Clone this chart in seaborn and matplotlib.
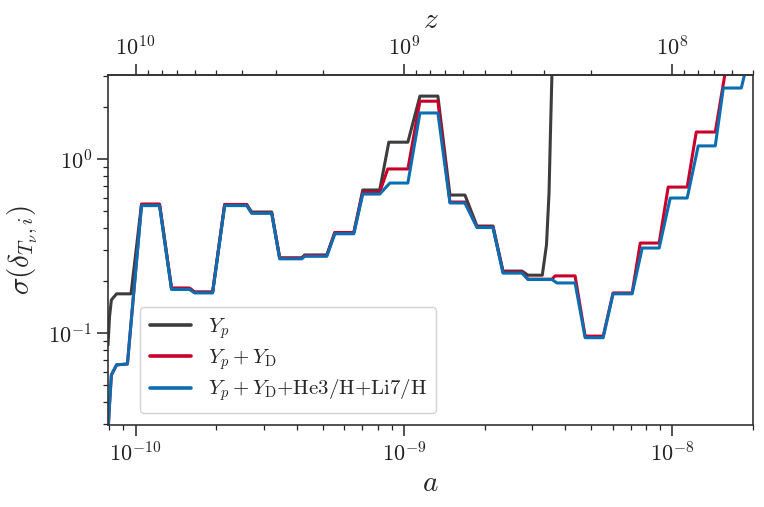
import numpy as np
import pandas as pd
import matplotlib
matplotlib.use("Agg")
import matplotlib.pyplot as plt
import seaborn as sns
from matplotlib.ticker import NullFormatter, LogLocator

# ---------------- data ----------------
a_yp = [7.90e-11, 8.0e-11, 8.13e-11, 8.50e-11, 9.62e-11, 1.053e-10, 1.229e-10,
        1.362e-10, 1.590e-10, 1.660e-10, 1.938e-10, 2.149e-10, 2.595e-10,
        2.709e-10, 3.217e-10, 3.446e-10, 4.163e-10, 4.272e-10, 5.162e-10,
        5.53e-10, 6.51e-10, 7.03e-10, 8.13e-10, 8.79e-10, 1.035e-9, 1.148e-9,
        1.339e-9, 1.485e-9, 1.689e-9, 1.873e-9, 2.148e-9, 2.341e-9, 2.756e-9,
        2.902e-9, 3.28e-9, 3.40e-9, 3.475e-9, 3.52e-9, 3.566e-9]
sig_yp = [0.0853, 0.1236, 0.155, 0.168, 0.168, 0.55, 0.55,
          0.181, 0.181, 0.172, 0.172, 0.548, 0.548,
          0.496, 0.496, 0.270, 0.270, 0.281, 0.281,
          0.378, 0.378, 0.664, 0.664, 1.25, 1.25, 2.30,
          2.30, 0.621, 0.621, 0.412, 0.412, 0.227, 0.227,
          0.215, 0.215, 0.321, 0.638, 1.47, 3.25]

a_yd = [7.90e-11, 8.0e-11, 8.13e-11, 8.50e-11, 9.33e-11, 1.053e-10, 1.229e-10,
        1.362e-10, 1.590e-10, 1.660e-10, 1.938e-10, 2.149e-10, 2.595e-10,
        2.709e-10, 3.217e-10, 3.446e-10, 4.163e-10, 4.272e-10, 5.162e-10,
        5.53e-10, 6.51e-10, 7.03e-10, 8.13e-10, 8.71e-10, 1.035e-9, 1.148e-9,
        1.339e-9, 1.485e-9, 1.689e-9, 1.873e-9, 2.148e-9, 2.341e-9, 2.756e-9,
        2.902e-9, 3.566e-9, 3.66e-9, 4.346e-9, 4.737e-9, 5.53e-9, 6.02e-9,
        7.09e-9, 7.60e-9, 8.94e-9, 9.66e-9, 1.137e-8, 1.229e-8, 1.447e-8,
        1.59e-8]
sig_yd = [0.027, 0.0386, 0.0574, 0.0656, 0.0664, 0.55, 0.55,
          0.181, 0.181, 0.172, 0.172, 0.548, 0.548,
          0.49, 0.49, 0.270, 0.270, 0.279, 0.279,
          0.378, 0.378, 0.645, 0.645, 0.877, 0.877, 2.15,
          2.15, 0.566, 0.566, 0.407, 0.407, 0.224, 0.224,
          0.204, 0.204, 0.213, 0.213, 0.096, 0.096, 0.170,
          0.170, 0.329, 0.329, 0.690, 0.690, 1.43, 1.43,
          3.42]

a_all = [7.90e-11, 8.0e-11, 8.13e-11, 8.50e-11, 9.33e-11, 1.053e-10, 1.229e-10,
         1.362e-10, 1.590e-10, 1.660e-10, 1.938e-10, 2.149e-10, 2.595e-10,
         2.709e-10, 3.217e-10, 3.446e-10, 4.163e-10, 4.272e-10, 5.162e-10,
         5.53e-10, 6.51e-10, 7.03e-10, 8.13e-10, 8.87e-10, 1.035e-9, 1.148e-9,
         1.339e-9, 1.485e-9, 1.689e-9, 1.873e-9, 2.148e-9, 2.341e-9, 2.756e-9,
         2.902e-9, 3.566e-9, 3.72e-9, 4.346e-9, 4.737e-9, 5.53e-9, 6.02e-9,
         7.09e-9, 7.73e-9, 8.94e-9, 9.83e-9, 1.137e-8, 1.250e-8, 1.447e-8,
         1.550e-8, 1.809e-8, 1.905e-8]
sig_all = [0.027, 0.0386, 0.0574, 0.0656, 0.0664, 0.54, 0.54,
           0.178, 0.178, 0.170, 0.170, 0.540, 0.540,
           0.488, 0.488, 0.267, 0.267, 0.276, 0.276,
           0.372, 0.372, 0.629, 0.629, 0.728, 0.728, 1.84,
           1.84, 0.559, 0.559, 0.404, 0.404, 0.221, 0.221,
           0.203, 0.203, 0.194, 0.194, 0.094, 0.094, 0.168,
           0.168, 0.308, 0.308, 0.597, 0.597, 1.19, 1.19,
           2.56, 2.56, 3.56]

labels = [r"$Y_p$", r"$Y_p + Y_{\rm D}$", r"$Y_p + Y_{\rm D}$+He3/H+Li7/H"]
colors = ["#3d3d3d", "#c8002a", "#0b6eb1"]

# ---------------- style ----------------
sns.set_style("ticks")
plt.rcParams.update({
    "font.family": "serif",
    "font.serif": ["cmr10", "DejaVu Serif"],
    "mathtext.fontset": "cm",
    "axes.formatter.use_mathtext": True,
    "axes.unicode_minus": False,
    "axes.edgecolor": "#333333",
    "axes.linewidth": 1.2,
    "xtick.color": "#222222",
    "ytick.color": "#222222",
})

df = pd.concat([
    pd.DataFrame({"a": a_yp, "sigma": sig_yp, "series": labels[0]}),
    pd.DataFrame({"a": a_yd, "sigma": sig_yd, "series": labels[1]}),
    pd.DataFrame({"a": a_all, "sigma": sig_all, "series": labels[2]}),
], ignore_index=True)

fig = plt.figure(figsize=(7.64, 5.07), dpi=100)
ax = fig.add_axes([0.1414, 0.1617, 0.8442, 0.6903])

sns.lineplot(data=df, x="a", y="sigma", hue="series", hue_order=labels,
             palette=colors, estimator=None, sort=False, linewidth=2.2, ax=ax)
for ln in ax.get_lines():
    ln.set_solid_joinstyle("round")

ax.set_xscale("log")
ax.set_yscale("log")
ax.set_xlim(7.9e-11, 2.0e-8)
ax.set_ylim(0.0296, 3.04)

ax.xaxis.set_minor_formatter(NullFormatter())
ax.yaxis.set_minor_formatter(NullFormatter())
ax.tick_params(which="major", length=8, width=1.1, labelsize=16, direction="out")
ax.tick_params(which="minor", length=3.8, width=0.9, direction="out")
ax.tick_params(top=False, right=False, which="both")

ax.set_xlabel(r"$a$", fontsize=21, labelpad=4)
ax.set_ylabel(r"$\sigma(\delta_{T_\nu,i})$", fontsize=21, labelpad=6)

def inv(x):
    x = np.asarray(x, dtype=float)
    with np.errstate(divide="ignore"):
        return 1.0 / x

secax = ax.secondary_xaxis("top", functions=(inv, inv))
secax.xaxis.set_major_locator(LogLocator(base=10))
secax.xaxis.set_minor_locator(LogLocator(base=10, subs=np.arange(2, 10)))
secax.xaxis.set_minor_formatter(NullFormatter())
secax.tick_params(which="major", length=8, width=1.1, labelsize=16, direction="out")
secax.tick_params(which="minor", length=3.8, width=0.9, direction="out")
secax.set_xlabel(r"$z$", fontsize=21, labelpad=5)

leg = ax.legend(loc="lower left", bbox_to_anchor=(0.05, 0.035), borderaxespad=0,
                fontsize=15, frameon=True, fancybox=True, framealpha=0.85,
                edgecolor="#cccccc", handlelength=2.0, labelspacing=0.28,
                borderpad=0.45)
for line in leg.get_lines():
    line.set_linewidth(2.6)

fig.savefig("out.png", dpi=100)
